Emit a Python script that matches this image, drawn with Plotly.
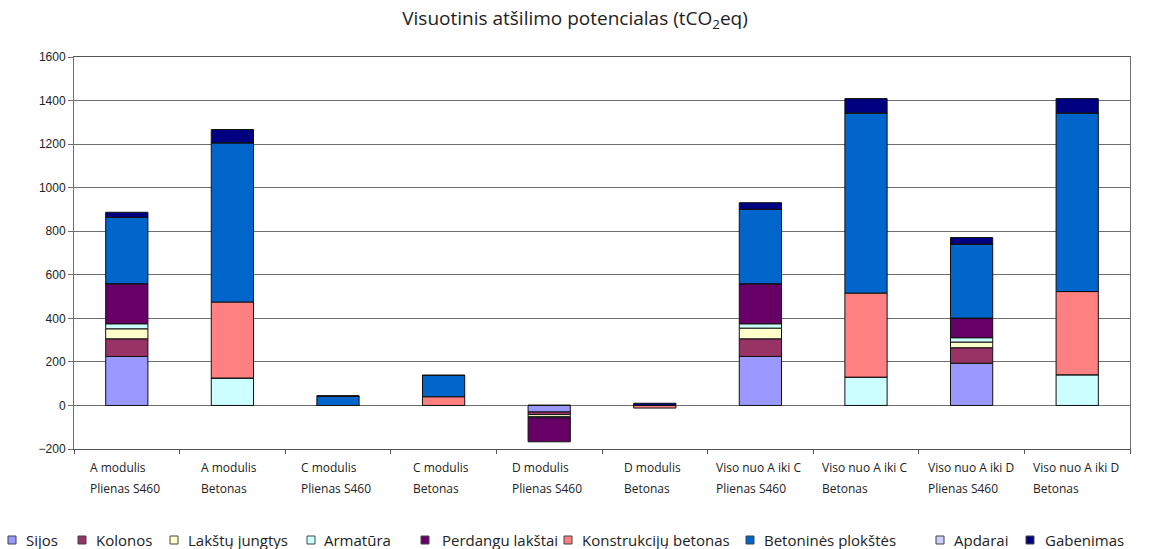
import plotly.graph_objects as go

cat_line1 = ["A modulis", "A modulis", "C modulis", "C modulis", "D modulis", "D modulis",
             "Viso nuo A iki C", "Viso nuo A iki C", "Viso nuo A iki D", "Viso nuo A iki D"]
cat_line2 = ["Plienas S460", "Betonas", "Plienas S460", "Betonas", "Plienas S460", "Betonas",
             "Plienas S460", "Betonas", "Plienas S460", "Betonas"]
categories = [a + " " + b for a, b in zip(cat_line1, cat_line2)]

sijos = [225, 0, 0, 0, -30, 0, 225, 0, 194, 0]
kolonos = [81, 0, 0, 0, -12, 0, 81, 0, 71, 0]
lakstu_jungtys = [46, 0, 0, 0, -10, 0, 49, 0, 26, 0]
armatura = [23, 126, 0, 0, -5, 0, 20, 130, 20, 141]
perdangu_lakstai = [184, 0, 0, 0, -110, 0, 184, 0, 90, 0]
konstrukciju_betonas = [0, 349, 0, 40, 0, -12, 0, 386, 0, 382]
betonines_plokstes = [305, 731, 43, 98, 0, 0, 342, 827, 340, 820]
apdarai = [0, 0, 0, 0, 0, 0, 0, 0, 0, 0]
gabenimas = [23, 61, 0, 0, 0, 10, 30, 66, 30, 66]

series_names = ["Sijos", "Kolonos", "Lakštų jungtys", "Armatūra", "Perdangu lakštai",
                "Konstrukcijų betonas", "Betoninės plokštės", "Apdarai", "Gabenimas"]
series_values = [sijos, kolonos, lakstu_jungtys, armatura, perdangu_lakstai,
                 konstrukciju_betonas, betonines_plokstes, apdarai, gabenimas]
series_colors = ["#9999FF", "#993366", "#FFFFCC", "#CCFFFF", "#660066",
                 "#FF8080", "#0066CC", "#CCCCFF", "#000080"]

W, H = 1150, 549
ML, MR, MT, MB = 74, 20, 57, 100
PW, PH = W - ML - MR, H - MT - MB

fig = go.Figure()
for name, vals, color in zip(series_names, series_values, series_colors):
    fig.add_trace(go.Bar(
        name=name, x=categories, y=vals,
        marker=dict(color=color, line=dict(color="#111111", width=1)),
        showlegend=False,
    ))

fig.update_layout(
    barmode="relative",
    bargap=0.6,
    width=W, height=H,
    margin=dict(l=ML, r=MR, t=MT, b=MB),
    paper_bgcolor="white", plot_bgcolor="white",
    title=dict(text="Visuotinis atšilimo potencialas (tCO<sub>2</sub>eq)",
               x=0.5, xanchor="center", y=0.967, yanchor="middle",
               font=dict(family="Open Sans", size=19, color="#222222")),
    font=dict(family="Open Sans", size=11, color="#222222"),
    showlegend=False,
)

fig.update_yaxes(
    range=[-200, 1600], dtick=200, tick0=0,
    showgrid=True, gridcolor="#6e6e6e", gridwidth=1,
    zeroline=True, zerolinecolor="#6e6e6e", zerolinewidth=1,
    showline=True, linecolor="#6e6e6e", mirror=True,
    ticks="outside", ticklen=5, tickcolor="#6e6e6e",
    tickfont=dict(family="Liberation Sans", size=12, color="#222222"),
)
fig.update_xaxes(
    showline=True, linecolor="#555555", mirror=True,
    ticks="outside", ticklen=4, tickcolor="#555555", tickson="boundaries",
    showticklabels=False,
)

# category labels (two lines, left aligned within a centred block)
label_shift = {"Plienas S460": -39, "Betonas": -33}
for cat, l1, l2 in zip(categories, cat_line1, cat_line2):
    shift = -46 if l1.startswith("Viso") else label_shift[l2]
    for txt, ypx in ((l1, 467), (l2, 488)):
        fig.add_annotation(
            x=cat, xref="x", y=(MT + PH - ypx) / PH, yref="paper",
            text=txt, showarrow=False, xanchor="left", yanchor="middle",
            xshift=shift, font=dict(family="Open Sans", size=12, color="#222222"),
        )

# manual legend in one row at the bottom
legend_square_x = [12, 82, 174, 311, 425, 568, 750, 940, 1030]
legend_text_x = [24, 94, 186, 322, 440, 580, 762, 952, 1043]
leg_y = (MT + PH - 540) / PH
half = 4
for name, color, sx, tx in zip(series_names, series_colors, legend_square_x, legend_text_x):
    fig.add_shape(
        type="rect", xref="paper", yref="paper",
        x0=(sx - half - ML) / PW, x1=(sx + half - ML) / PW,
        y0=leg_y - half / PH, y1=leg_y + half / PH,
        fillcolor=color, line=dict(color="#444444", width=1),
    )
    fig.add_annotation(
        x=(tx - ML) / PW, xref="paper", y=leg_y, yref="paper",
        text=name, showarrow=False, xanchor="left", yanchor="middle",
        font=dict(family="Open Sans", size=15, color="#222222"),
    )

fig.write_html(
    "out.html",
    config={"displayModeBar": False},
    post_script="document.body.style.margin='0';document.body.style.padding='0';",
)
